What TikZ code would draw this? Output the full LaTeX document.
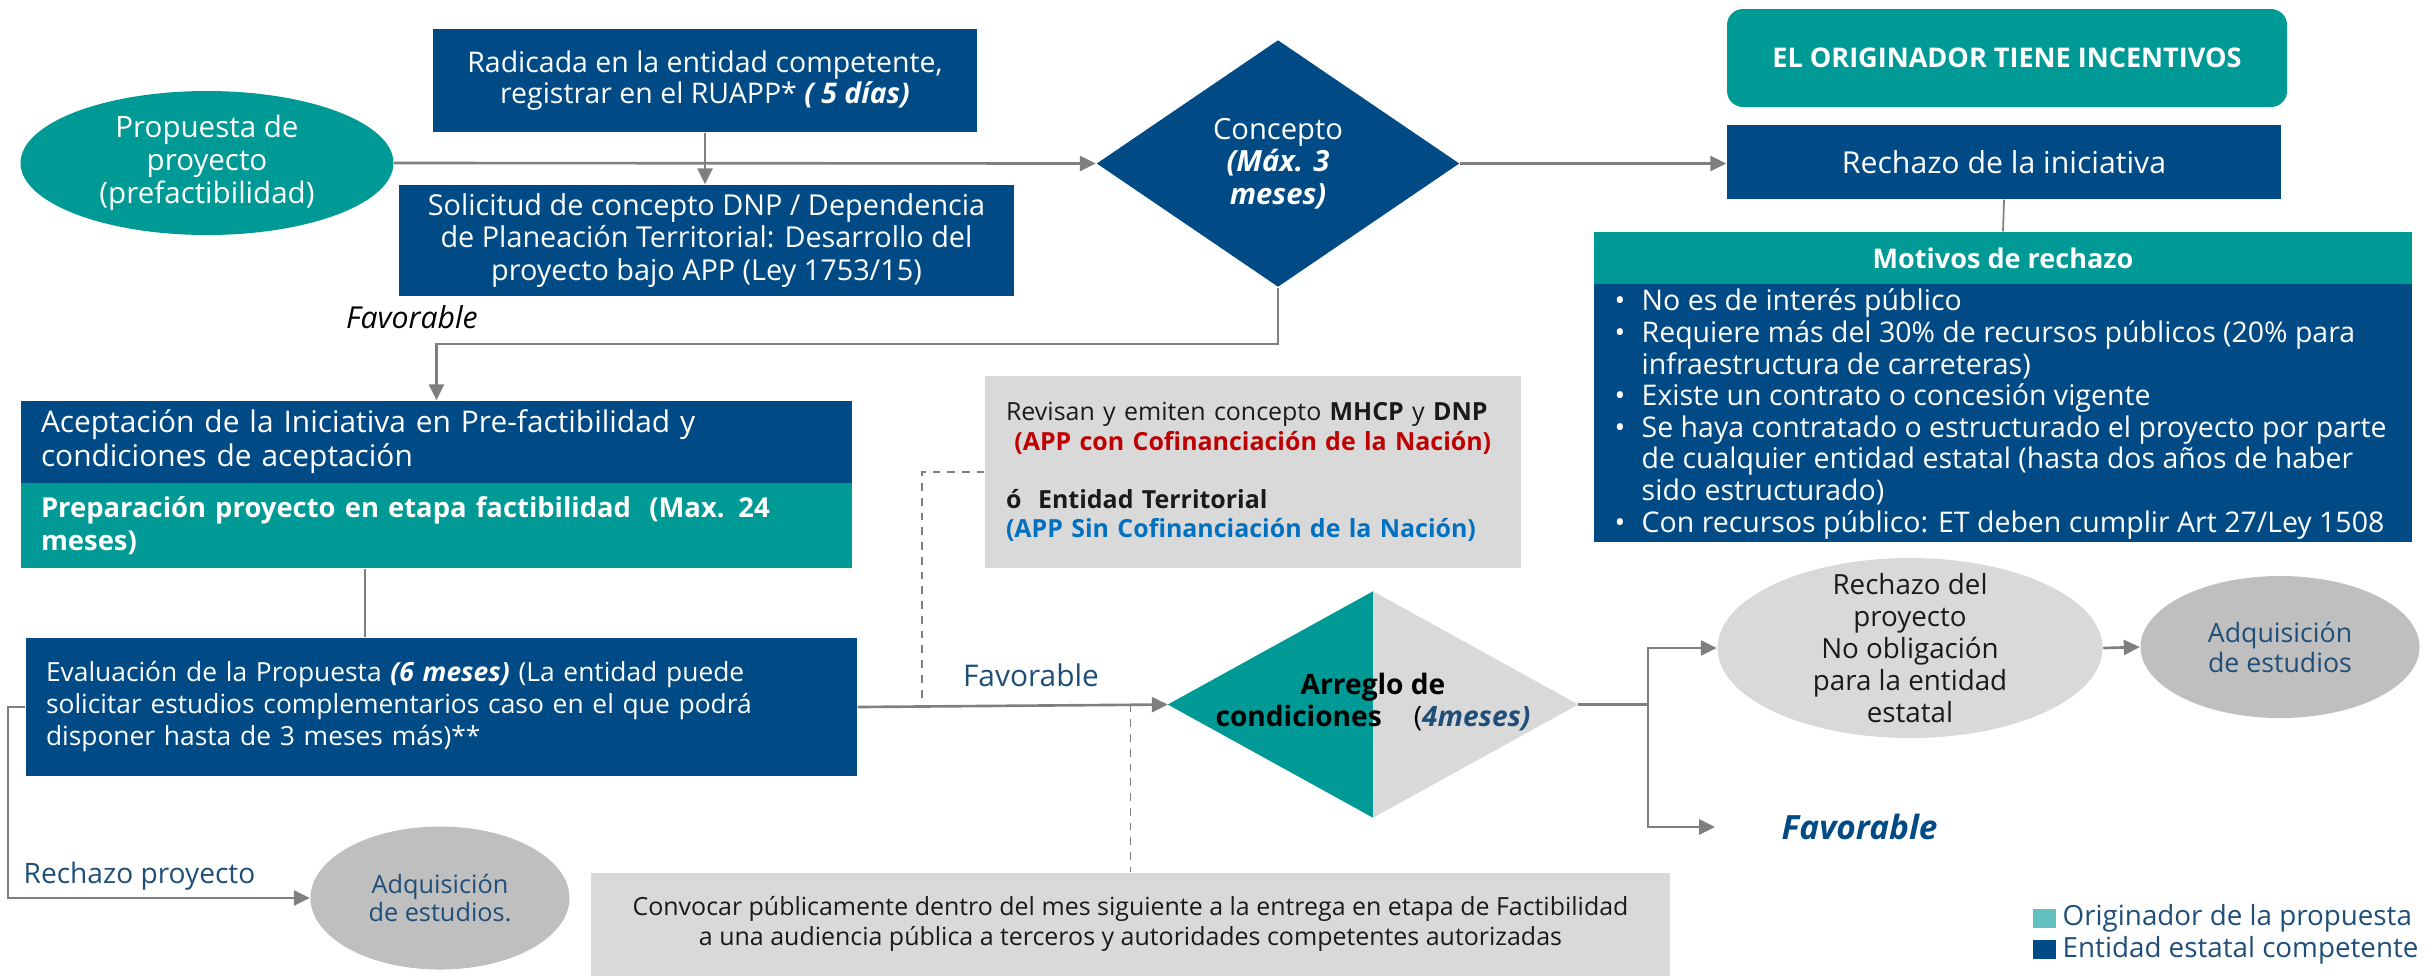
\documentclass[tikz,border=0pt]{standalone}
\usepackage{fontspec}
\setmainfont{Open Sans}
\usetikzlibrary{shapes.geometric,arrows.meta,calc}
\definecolor{cteal}{HTML}{009A96}
\definecolor{cblue}{HTML}{004B85}
\definecolor{clgray}{HTML}{D9D9D9}
\definecolor{cmgray}{HTML}{BFBFBF}
\definecolor{cline}{HTML}{7F7F7F}
\definecolor{ctext}{HTML}{1F4E79}
\definecolor{cred}{HTML}{C00000}
\definecolor{cbl}{HTML}{0070C0}
\definecolor{clegteal}{HTML}{62C1C0}
\definecolor{cdark}{HTML}{1A1A1A}
\newcommand\fsz[2]{\fontsize{#1}{#2}\selectfont}
\begin{document}
\begin{tikzpicture}[x=0.1mm,y=-0.1mm,
  bluebox/.style={rectangle, fill=cblue, text=white, inner sep=0pt, align=center},
  tealbox/.style={rectangle, fill=cteal, text=white, inner sep=0pt, align=center},
  graybox/.style={rectangle, fill=clgray, text=cdark, inner sep=0pt},
  oval/.style={ellipse, inner sep=0pt, align=center},
  conn/.style={draw=cline, line width=0.75pt, -{Triangle[length=1.6mm,width=1.5mm]}},
  thinline/.style={draw=cline, line width=0.5pt},
  dashline/.style={draw=cline, line width=0.5pt, dash pattern=on 2.2pt off 2pt},
  lbl/.style={inner sep=0pt}
]
\useasboundingbox (0,0) rectangle (2435,977);

% top row
\node[oval, fill=cteal, text=white, minimum width=37.3mm, minimum height=14.4mm, font=\fsz{8.4}{9.3}] (prop) at (207,163) {Propuesta de\\proyecto\\(prefactibilidad)};
\node[bluebox, minimum width=54.4mm, minimum height=10.3mm, font=\fsz{8.1}{8.9}] (rad) at (705,80.5) {Radicada en la entidad competente,\\registrar en el RUAPP* \textbf{\textit{( 5 días)}}};
\node[bluebox, minimum width=61.5mm, minimum height=11.1mm, font=\fsz{8.2}{9.2}] (sol) at (706.5,240.5) {Solicitud de concepto DNP / Dependencia\\de Planeación Territorial: Desarrollo del\\proyecto bajo APP (Ley 1753/15)};
\node[diamond, fill=cblue, text=white, inner sep=0pt, minimum width=36.3mm, minimum height=24.7mm, font=\fsz{8.3}{9.2}, align=center] (conc) at (1278,163.5) {Concepto\\\textbf{\textit{(Máx. 3}}\\\textbf{\textit{meses)}}};
\node[tealbox, rounded corners=1.6mm, minimum width=56mm, minimum height=9.8mm, font=\fsz{7.7}{9}\bfseries] (orig) at (2007,58) {EL ORIGINADOR TIENE INCENTIVOS};
\node[bluebox, minimum width=55.4mm, minimum height=7.4mm, font=\fsz{8.6}{9.5}] (rini) at (2004,162) {Rechazo de la iniciativa};
\node[tealbox, minimum width=81.8mm, minimum height=5.2mm, font=\fsz{7.7}{9}\bfseries] (mot) at (2003,258) {Motivos de rechazo};
\node[rectangle, fill=cblue, minimum width=81.8mm, minimum height=25.8mm, inner sep=0pt] (motb) at (2003,413) {};
\node[lbl, text=white, anchor=west, align=left, font=\fsz{8.1}{9}] (motl) at (1614,414) {%
\makebox[2.7mm][l]{\textbullet}No es de interés público\\
\makebox[2.7mm][l]{\textbullet}Requiere más del 30\% de recursos públicos (20\% para\\
\makebox[2.7mm][l]{}infraestructura de carreteras)\\
\makebox[2.7mm][l]{\textbullet}Existe un contrato o concesión vigente\\
\makebox[2.7mm][l]{\textbullet}Se haya contratado o estructurado el proyecto por parte\\
\makebox[2.7mm][l]{}de cualquier entidad estatal (hasta dos años de haber\\
\makebox[2.7mm][l]{}sido estructurado)\\
\makebox[2.7mm][l]{\textbullet}Con recursos público: ET deben cumplir Art 27/Ley 1508};

\node[lbl, font=\fsz{8.6}{9}\itshape, text=black] (favA) at (412,317) {Favorable};

% left column
\node[bluebox, minimum width=83.1mm, minimum height=8.2mm, text width=79.1mm, align=left, font=\fsz{8.5}{9.7}] (acep) at (436.5,442) {Aceptación de la Iniciativa en Pre-factibilidad y\\condiciones de aceptación};
\node[tealbox, minimum width=83.1mm, minimum height=8.5mm, text width=79.1mm, align=left, font=\fsz{7.8}{9.5}\bfseries] (prep) at (436.5,525.5) {Preparación proyecto en etapa factibilidad\ \ (Max. 24\\meses)};
\node[bluebox, minimum width=83.1mm, minimum height=13.8mm, text width=79.1mm, align=left, font=\fsz{7.5}{9.1}] (eval) at (441.5,707) {Evaluación de la Propuesta \textbf{\textit{(6 meses)}} (La entidad puede\\solicitar estudios complementarios caso en el que podrá\\disponer hasta de 3 meses más)**};

% grey review box
\node[graybox, minimum width=53.6mm, minimum height=19.2mm, text width=49.4mm, align=left, font=\fsz{7.1}{8.3}] (rev) at (1253,472) {Revisan y emiten concepto \textbf{MHCP} y \textbf{DNP}\\
\ \textcolor{cred}{\textbf{(APP con Cofinanciación de la Nación)}}\\[8.3pt]
\textbf{ó\ \ Entidad Territorial}\\
\textcolor{cbl}{\textbf{(APP Sin Cofinanciación de la Nación)}}};

% Arreglo diamond
\node[diamond, inner sep=0pt, minimum width=40.9mm, minimum height=22.5mm] (arr) at (1373,704.5) {};
\fill[cteal] (arr.north) -- (arr.west) -- (arr.south) -- cycle;
\fill[clgray] (arr.north) -- (arr.east) -- (arr.south) -- cycle;
\node[lbl, align=center, text=black, font=\fsz{8}{9}] (arrt) at (1373,702) {\textbf{Arreglo de}\\\textbf{condiciones}\hspace{3.2mm}(\textcolor{ctext}{\textbf{\textit{4meses)}}}};

\node[lbl, text=ctext, font=\fsz{8.5}{9}] (favB) at (1031,675) {Favorable};

% right outcomes
\node[ellipse, fill=clgray, inner sep=0pt, minimum width=38.5mm, minimum height=18mm] (rpro) at (1910,648) {};
\node[lbl, align=center, text=cdark, font=\fsz{7.9}{9.1}] (rprot) at (rpro.center) {Rechazo del\\proyecto\\No obligación\\para la entidad\\estatal};
\node[oval, fill=cmgray, text=ctext, minimum width=27.9mm, minimum height=14.2mm, font=\fsz{7.6}{8.6}] (adq2) at (2280,647) {Adquisición\\de estudios};
\node[lbl, font=\fsz{9.5}{10}\bfseries\itshape, text=cblue, anchor=west] (favC) at (1781,827) {Favorable};
\coordinate (favArr) at (1715,827);

% bottom
\node[oval, fill=cmgray, text=ctext, minimum width=25.9mm, minimum height=14.3mm, font=\fsz{7.2}{8.2}] (adq1) at (440,898) {Adquisición\\de estudios.};
\node[lbl, font=\fsz{8}{9}, text=ctext, anchor=west] (rechLbl) at (23,876) {Rechazo proyecto};
\node[graybox, minimum width=107.9mm, minimum height=10.3mm, align=center, font=\fsz{7.1}{8.4}] (conv) at (1130.5,924) {Convocar públicamente dentro del mes siguiente a la entrega en etapa de Factibilidad\\a una audiencia pública a terceros y autoridades competentes autorizadas};

% legend
\node[rectangle, fill=clegteal, inner sep=0pt, minimum width=2.3mm, minimum height=1.9mm] (lg1) at (2044.5,918) {};
\node[lbl, text=ctext, anchor=west, font=\fsz{7.9}{9}] (lg1t) at (2062,918) {Originador de la propuesta};
\node[rectangle, fill=cblue, inner sep=0pt, minimum width=2.3mm, minimum height=1.9mm] (lg2) at (2044.5,949.5) {};
\node[lbl, text=ctext, anchor=west, font=\fsz{7.9}{9}] (lg2t) at (2062,950) {Entidad estatal competente};

% connectors
\coordinate (c1) at (1278,344);
\coordinate (c2) at (365,0);
\coordinate (c3) at (922,472);
\coordinate (c4) at (8,898);
\coordinate (c5) at (1648,704.5);
\draw[conn] (prop.east) -- (conc.west);
\draw[conn] (rad.south) -- (rad.south |- sol.north);
\draw[conn] (conc.east) -- (conc.east -| rini.west);
\draw[thinline] (rini.south) -- (mot.north);
\draw[conn] (conc.south) -- (conc.south |- c1) -| (acep.north);
\draw[thinline] (prep.south -| c2) -- (eval.north -| c2);
\draw[dashline] (eval.east) -| (c3) -- (rev.west);
\draw[conn] (eval.east) -- (arr.west);
\draw[dashline] (conv.north |- arr.west) -- (conv.north);
\draw[conn] (eval.west) -| (c4) -- (adq1.west);
\draw[thinline, line width=0.75pt] (arr.east) -- (c5);
\draw[conn] (c5) |- (rpro.west);
\draw[conn] (c5) |- (favArr);
\draw[conn] (rpro.east) -- (adq2.west);
\end{tikzpicture}
\end{document}
